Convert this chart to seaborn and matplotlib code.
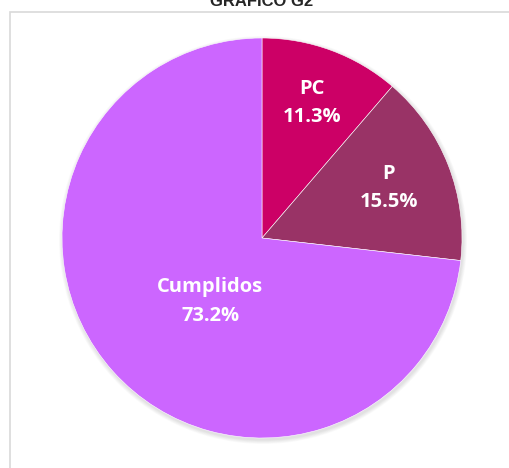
import matplotlib
matplotlib.use("Agg")
import matplotlib.pyplot as plt
import seaborn as sns
import numpy as np
from matplotlib.patches import Rectangle, Circle

categories = ["PC", "P", "Cumplidos"]
values = [11.3, 15.5, 73.2]
colors = ["#CC0066", "#993366", "#CC66FF"]
label_dist = [0.72, 0.68, 0.41]
label_shift = [0, 0, 9]
title = "GRAFICO G2"

sns.set_theme(style="white")
plt.rcParams['font.family'] = ['Open Sans', 'DejaVu Sans']

W, H = 509, 468
fig = plt.figure(figsize=(W / 100, H / 100), dpi=100)
ax = fig.add_axes([0, 0, 1, 1])

cx, cy, r = 262, H - 238, 200

# soft shadow
for i in range(6):
    ax.add_patch(Circle((cx + 1, cy - 2), r + 4 - i * 0.7, facecolor="black",
                        alpha=0.02, edgecolor="none", zorder=1))

wedges, _ = ax.pie(values, colors=colors, startangle=90, counterclock=False,
                   center=(cx, cy), radius=r, frame=True,
                   wedgeprops=dict(edgecolor="white", linewidth=0.4, zorder=2))
ax.set_xlim(0, W)
ax.set_ylim(0, H)
ax.set_aspect('equal')
ax.axis('off')

# chart area border
ax.add_patch(Rectangle((10.5, -5), W + 10, H - 11.5 + 5, fill=False,
                       edgecolor="#D9D9D9", linewidth=1.2, zorder=0))

for w, cat, val, d, s in zip(wedges, categories, values, label_dist, label_shift):
    ang = np.deg2rad((w.theta1 + w.theta2) / 2 + s)
    x = cx + d * r * np.cos(ang)
    y = cy + d * r * np.sin(ang)
    ax.text(x, y, f"{cat}\n{val:.1f}%", ha="center", va="center",
            color="white", fontsize=14.5, fontweight="bold",
            linespacing=1.55, zorder=5)

ax.text(cx, H - 6, title, ha="center", va="baseline", fontsize=12,
        fontweight="bold", family=["Liberation Sans", "DejaVu Sans"])

fig.savefig("out.png", dpi=100)
